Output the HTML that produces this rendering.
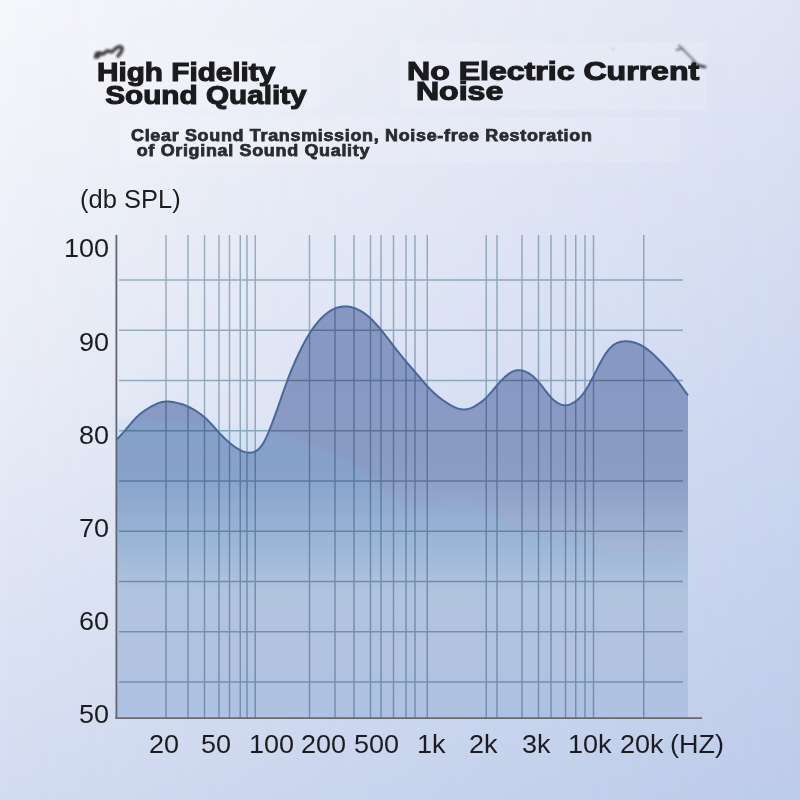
<!DOCTYPE html>
<html><head><meta charset="utf-8">
<style>
html,body{margin:0;padding:0;}
body{width:800px;height:800px;position:relative;overflow:hidden;font-family:"Liberation Sans",Arial,sans-serif;}
.bgA{position:absolute;left:0;top:0;width:800px;height:800px;background:linear-gradient(to bottom,#f6f7fb 0%,#e8ecf7 50%,#d3dcf1 100%);}
.bgB{position:absolute;left:0;top:0;width:800px;height:800px;background:linear-gradient(to bottom,#dfe4f3 0%,#cdd7f0 50%,#bccbe9 100%);
 -webkit-mask-image:linear-gradient(to right,transparent,#000);mask-image:linear-gradient(to right,transparent,#000);}
.box{position:absolute;background:rgba(255,255,255,0.12);}
.h{position:absolute;white-space:nowrap;font-weight:bold;color:#1b1b1d;transform-origin:0 0;text-shadow:0 0 1.5px rgba(255,255,255,0.9);}
.yl{position:absolute;left:0;width:109px;text-align:right;font-size:25px;line-height:1;color:#1c1c1f;margin-top:-3px;transform:scaleX(1.08);transform-origin:109px 0;}
.xl{position:absolute;top:732px;font-size:25px;line-height:1;color:#1c1c1f;transform:scaleX(1.08);transform-origin:0 0;}
svg{position:absolute;left:0;top:0;}
</style></head><body>
<div class="bgA"></div><div class="bgB"></div>
<div class="box" style="left:91px;top:42px;width:229px;height:68px"></div>
<div class="box" style="left:400px;top:42px;width:307px;height:68px"></div>
<div class="box" style="left:120px;top:118px;width:560px;height:44px"></div>
<svg width="800" height="200" viewBox="0 0 800 200" style="position:absolute;left:0;top:0">
<defs><filter id="sm" x="-50%" y="-50%" width="200%" height="200%"><feGaussianBlur stdDeviation="1.1"/></filter>
<filter id="sm2" x="-50%" y="-50%" width="200%" height="200%"><feGaussianBlur stdDeviation="0.8"/></filter></defs>
<g filter="url(#sm)" fill="none" stroke="#4a4a4e" stroke-linecap="round">
<path d="M95.5,57 C97,53 100,52 102,54 C104,55 105,51 108,51 C110,51 111,53 113,51 C116,48 119,46 121,47 C123,48 122,52 118,56" stroke-width="3.8"/>
<ellipse cx="97.5" cy="55" rx="3" ry="3.5" fill="#3e3e42" stroke="none"/>
</g>
<g filter="url(#sm2)" fill="none" stroke-linecap="round">
<path d="M676.5,50 L683,48.5 M679,45.5 L695,61.5" stroke="#7a7d86" stroke-width="1.9"/>
<path d="M693,63 L699,65.5 L705,67" stroke="#505259" stroke-width="3"/>
</g>
<circle cx="613" cy="49" r="1.5" fill="#c8cbd6" filter="url(#sm2)"/>
</svg>
<div class="h" id="h1" style="left:97px;top:60.7px;font-size:25.5px;line-height:23.8px;transform:scaleX(1.165);-webkit-text-stroke:1.1px #1b1b1d;">High Fidelity<br>&nbsp;Sound Quality</div>
<div class="h" id="h2" style="left:407px;top:60.8px;font-size:26.4px;line-height:20.1px;transform:scaleX(1.215);-webkit-text-stroke:1.2px #1b1b1d;">No Electric Current<br>&nbsp;Noise</div>
<div class="h" id="h3" style="left:131px;top:129.3px;font-size:16px;line-height:14.8px;color:#2b2b30;transform:scaleX(1.12);-webkit-text-stroke:0.75px #2b2b30;letter-spacing:0.62px;">Clear Sound Transmission, Noise-free Restoration<br>&nbsp;of Original Sound Quality</div>
<div class="h" style="left:80px;top:186.7px;font-size:25px;font-weight:normal;color:#1c1c1f;line-height:1;transform:scaleX(1.02);">(db SPL)</div>
<div class="yl" style="top:239.4px">100</div><div class="yl" style="top:332.5px">90</div><div class="yl" style="top:425.6px">80</div><div class="yl" style="top:518.6px">70</div><div class="yl" style="top:611.7px">60</div><div class="yl" style="top:704.8px">50</div>
<div class="xl" style="left:148.5px">20</div><div class="xl" style="left:200.9px">50</div><div class="xl" style="left:249.1px">100</div><div class="xl" style="left:300.9px">200</div><div class="xl" style="left:353.5px">500</div><div class="xl" style="left:416.5px">1k</div><div class="xl" style="left:469.1px">2k</div><div class="xl" style="left:522.1px">3k</div><div class="xl" style="left:567.5px">10k</div><div class="xl" style="left:620.1px">20k</div><div class="xl" style="left:670.1px">(HZ)</div>
<svg width="800" height="800" viewBox="0 0 800 800">
<defs>
<linearGradient id="gf" x1="0" y1="300" x2="0" y2="718" gradientUnits="userSpaceOnUse">
<stop offset="0" stop-color="rgb(134,152,194)"/>
<stop offset="0.407" stop-color="rgb(138,155,196)"/>
<stop offset="0.55" stop-color="rgb(158,176,210)"/>
<stop offset="0.694" stop-color="rgb(182,196,221)"/>
<stop offset="1" stop-color="rgb(175,194,227)"/>
</linearGradient>
<linearGradient id="gt" x1="0" y1="420" x2="0" y2="700" gradientUnits="userSpaceOnUse">
<stop offset="0" stop-color="rgb(118,188,226)" stop-opacity="0.2"/>
<stop offset="0.45" stop-color="rgb(118,188,226)" stop-opacity="0.16"/>
<stop offset="0.75" stop-color="rgb(118,188,226)" stop-opacity="0.03"/>
<stop offset="1" stop-color="rgb(118,188,226)" stop-opacity="0.03"/>
</linearGradient>
<filter id="bl" x="-5%" y="-5%" width="110%" height="110%"><feGaussianBlur stdDeviation="3"/></filter>
<filter id="bl2" x="-5%" y="-5%" width="110%" height="110%"><feGaussianBlur stdDeviation="2.5"/></filter>
<clipPath id="cp"><rect x="117" y="230" width="571" height="488"/></clipPath>
<clipPath id="cf"><path d="M117.0,439.30 L118.0,438.24 L119.0,437.17 L120.0,436.10 L121.0,435.02 L122.0,433.92 L123.0,432.82 L124.0,431.69 L125.0,430.55 L126.0,429.39 L127.0,428.20 L128.0,427.00 L129.0,425.80 L130.0,424.60 L131.0,423.41 L132.0,422.23 L133.0,421.08 L134.0,419.96 L135.0,418.87 L136.0,417.82 L137.0,416.83 L138.0,415.89 L139.0,414.99 L140.0,414.14 L141.0,413.33 L142.0,412.56 L143.0,411.82 L144.0,411.11 L145.0,410.42 L146.0,409.76 L147.0,409.11 L148.0,408.48 L149.0,407.86 L150.0,407.25 L151.0,406.66 L152.0,406.09 L153.0,405.55 L154.0,405.03 L155.0,404.53 L156.0,404.07 L157.0,403.64 L158.0,403.25 L159.0,402.90 L160.0,402.59 L161.0,402.32 L162.0,402.09 L163.0,401.90 L164.0,401.75 L165.0,401.64 L166.0,401.57 L167.0,401.54 L168.0,401.55 L169.0,401.59 L170.0,401.66 L171.0,401.76 L172.0,401.89 L173.0,402.04 L174.0,402.22 L175.0,402.42 L176.0,402.63 L177.0,402.87 L178.0,403.11 L179.0,403.37 L180.0,403.64 L181.0,403.93 L182.0,404.24 L183.0,404.57 L184.0,404.92 L185.0,405.29 L186.0,405.68 L187.0,406.10 L188.0,406.54 L189.0,407.01 L190.0,407.51 L191.0,408.03 L192.0,408.58 L193.0,409.15 L194.0,409.74 L195.0,410.35 L196.0,410.98 L197.0,411.62 L198.0,412.29 L199.0,412.97 L200.0,413.69 L201.0,414.42 L202.0,415.19 L203.0,415.99 L204.0,416.83 L205.0,417.71 L206.0,418.63 L207.0,419.58 L208.0,420.58 L209.0,421.60 L210.0,422.64 L211.0,423.71 L212.0,424.80 L213.0,425.90 L214.0,427.01 L215.0,428.13 L216.0,429.25 L217.0,430.37 L218.0,431.48 L219.0,432.57 L220.0,433.65 L221.0,434.70 L222.0,435.74 L223.0,436.74 L224.0,437.73 L225.0,438.69 L226.0,439.63 L227.0,440.54 L228.0,441.44 L229.0,442.31 L230.0,443.15 L231.0,443.97 L232.0,444.77 L233.0,445.54 L234.0,446.28 L235.0,446.99 L236.0,447.67 L237.0,448.32 L238.0,448.93 L239.0,449.50 L240.0,450.04 L241.0,450.53 L242.0,450.98 L243.0,451.39 L244.0,451.74 L245.0,452.05 L246.0,452.30 L247.0,452.49 L248.0,452.62 L249.0,452.69 L250.0,452.69 L251.0,452.61 L252.0,452.46 L253.0,452.22 L254.0,451.89 L255.0,451.47 L256.0,450.94 L257.0,450.31 L258.0,449.55 L259.0,448.66 L260.0,447.63 L261.0,446.45 L262.0,445.11 L263.0,443.59 L264.0,441.90 L265.0,440.05 L266.0,438.04 L267.0,435.89 L268.0,433.61 L269.0,431.21 L270.0,428.72 L271.0,426.14 L272.0,423.49 L273.0,420.81 L274.0,418.09 L275.0,415.35 L276.0,412.58 L277.0,409.79 L278.0,406.97 L279.0,404.13 L280.0,401.27 L281.0,398.40 L282.0,395.53 L283.0,392.67 L284.0,389.82 L285.0,387.00 L286.0,384.23 L287.0,381.50 L288.0,378.83 L289.0,376.23 L290.0,373.68 L291.0,371.18 L292.0,368.75 L293.0,366.36 L294.0,364.03 L295.0,361.74 L296.0,359.50 L297.0,357.30 L298.0,355.15 L299.0,353.04 L300.0,350.97 L301.0,348.95 L302.0,346.97 L303.0,345.03 L304.0,343.14 L305.0,341.30 L306.0,339.50 L307.0,337.75 L308.0,336.05 L309.0,334.40 L310.0,332.80 L311.0,331.25 L312.0,329.75 L313.0,328.30 L314.0,326.90 L315.0,325.56 L316.0,324.26 L317.0,323.02 L318.0,321.83 L319.0,320.69 L320.0,319.60 L321.0,318.55 L322.0,317.55 L323.0,316.59 L324.0,315.67 L325.0,314.80 L326.0,313.97 L327.0,313.18 L328.0,312.43 L329.0,311.73 L330.0,311.07 L331.0,310.45 L332.0,309.88 L333.0,309.36 L334.0,308.88 L335.0,308.44 L336.0,308.05 L337.0,307.71 L338.0,307.41 L339.0,307.15 L340.0,306.94 L341.0,306.77 L342.0,306.63 L343.0,306.54 L344.0,306.48 L345.0,306.46 L346.0,306.47 L347.0,306.53 L348.0,306.61 L349.0,306.74 L350.0,306.90 L351.0,307.10 L352.0,307.33 L353.0,307.61 L354.0,307.92 L355.0,308.27 L356.0,308.66 L357.0,309.09 L358.0,309.55 L359.0,310.05 L360.0,310.59 L361.0,311.17 L362.0,311.78 L363.0,312.43 L364.0,313.11 L365.0,313.83 L366.0,314.58 L367.0,315.37 L368.0,316.19 L369.0,317.04 L370.0,317.94 L371.0,318.86 L372.0,319.82 L373.0,320.81 L374.0,321.83 L375.0,322.89 L376.0,323.97 L377.0,325.08 L378.0,326.22 L379.0,327.38 L380.0,328.57 L381.0,329.77 L382.0,331.00 L383.0,332.25 L384.0,333.51 L385.0,334.78 L386.0,336.07 L387.0,337.36 L388.0,338.66 L389.0,339.97 L390.0,341.28 L391.0,342.59 L392.0,343.89 L393.0,345.19 L394.0,346.49 L395.0,347.78 L396.0,349.06 L397.0,350.34 L398.0,351.61 L399.0,352.87 L400.0,354.12 L401.0,355.37 L402.0,356.60 L403.0,357.83 L404.0,359.04 L405.0,360.25 L406.0,361.44 L407.0,362.63 L408.0,363.80 L409.0,364.96 L410.0,366.12 L411.0,367.27 L412.0,368.42 L413.0,369.57 L414.0,370.72 L415.0,371.87 L416.0,373.03 L417.0,374.19 L418.0,375.35 L419.0,376.53 L420.0,377.71 L421.0,378.90 L422.0,380.09 L423.0,381.28 L424.0,382.46 L425.0,383.62 L426.0,384.76 L427.0,385.89 L428.0,386.98 L429.0,388.04 L430.0,389.08 L431.0,390.09 L432.0,391.07 L433.0,392.02 L434.0,392.95 L435.0,393.85 L436.0,394.73 L437.0,395.58 L438.0,396.42 L439.0,397.23 L440.0,398.01 L441.0,398.78 L442.0,399.53 L443.0,400.25 L444.0,400.96 L445.0,401.64 L446.0,402.31 L447.0,402.95 L448.0,403.58 L449.0,404.19 L450.0,404.77 L451.0,405.34 L452.0,405.87 L453.0,406.38 L454.0,406.86 L455.0,407.31 L456.0,407.72 L457.0,408.09 L458.0,408.43 L459.0,408.71 L460.0,408.96 L461.0,409.15 L462.0,409.29 L463.0,409.38 L464.0,409.42 L465.0,409.40 L466.0,409.32 L467.0,409.18 L468.0,408.99 L469.0,408.73 L470.0,408.42 L471.0,408.05 L472.0,407.62 L473.0,407.14 L474.0,406.61 L475.0,406.05 L476.0,405.45 L477.0,404.83 L478.0,404.17 L479.0,403.50 L480.0,402.81 L481.0,402.09 L482.0,401.34 L483.0,400.54 L484.0,399.71 L485.0,398.83 L486.0,397.89 L487.0,396.90 L488.0,395.86 L489.0,394.77 L490.0,393.64 L491.0,392.48 L492.0,391.31 L493.0,390.12 L494.0,388.93 L495.0,387.74 L496.0,386.56 L497.0,385.39 L498.0,384.24 L499.0,383.11 L500.0,382.01 L501.0,380.93 L502.0,379.87 L503.0,378.85 L504.0,377.87 L505.0,376.93 L506.0,376.03 L507.0,375.19 L508.0,374.40 L509.0,373.67 L510.0,373.00 L511.0,372.40 L512.0,371.87 L513.0,371.42 L514.0,371.03 L515.0,370.72 L516.0,370.48 L517.0,370.32 L518.0,370.22 L519.0,370.20 L520.0,370.25 L521.0,370.37 L522.0,370.56 L523.0,370.81 L524.0,371.12 L525.0,371.48 L526.0,371.90 L527.0,372.37 L528.0,372.89 L529.0,373.46 L530.0,374.08 L531.0,374.76 L532.0,375.50 L533.0,376.30 L534.0,377.17 L535.0,378.10 L536.0,379.10 L537.0,380.16 L538.0,381.28 L539.0,382.45 L540.0,383.66 L541.0,384.90 L542.0,386.17 L543.0,387.46 L544.0,388.76 L545.0,390.07 L546.0,391.36 L547.0,392.64 L548.0,393.90 L549.0,395.11 L550.0,396.27 L551.0,397.38 L552.0,398.42 L553.0,399.38 L554.0,400.28 L555.0,401.10 L556.0,401.85 L557.0,402.53 L558.0,403.13 L559.0,403.66 L560.0,404.12 L561.0,404.50 L562.0,404.80 L563.0,405.03 L564.0,405.18 L565.0,405.25 L566.0,405.23 L567.0,405.13 L568.0,404.94 L569.0,404.68 L570.0,404.34 L571.0,403.94 L572.0,403.46 L573.0,402.93 L574.0,402.33 L575.0,401.68 L576.0,400.96 L577.0,400.19 L578.0,399.34 L579.0,398.42 L580.0,397.43 L581.0,396.35 L582.0,395.19 L583.0,393.95 L584.0,392.60 L585.0,391.17 L586.0,389.65 L587.0,388.05 L588.0,386.37 L589.0,384.63 L590.0,382.82 L591.0,380.96 L592.0,379.05 L593.0,377.10 L594.0,375.12 L595.0,373.12 L596.0,371.12 L597.0,369.12 L598.0,367.15 L599.0,365.20 L600.0,363.30 L601.0,361.45 L602.0,359.66 L603.0,357.93 L604.0,356.27 L605.0,354.69 L606.0,353.19 L607.0,351.78 L608.0,350.46 L609.0,349.24 L610.0,348.11 L611.0,347.10 L612.0,346.18 L613.0,345.37 L614.0,344.65 L615.0,344.01 L616.0,343.46 L617.0,342.98 L618.0,342.57 L619.0,342.24 L620.0,341.96 L621.0,341.74 L622.0,341.58 L623.0,341.46 L624.0,341.38 L625.0,341.33 L626.0,341.32 L627.0,341.35 L628.0,341.40 L629.0,341.49 L630.0,341.60 L631.0,341.76 L632.0,341.94 L633.0,342.17 L634.0,342.42 L635.0,342.71 L636.0,343.04 L637.0,343.40 L638.0,343.80 L639.0,344.24 L640.0,344.71 L641.0,345.23 L642.0,345.78 L643.0,346.37 L644.0,346.99 L645.0,347.66 L646.0,348.36 L647.0,349.10 L648.0,349.86 L649.0,350.66 L650.0,351.49 L651.0,352.34 L652.0,353.22 L653.0,354.12 L654.0,355.04 L655.0,355.99 L656.0,356.95 L657.0,357.92 L658.0,358.92 L659.0,359.92 L660.0,360.94 L661.0,361.96 L662.0,363.00 L663.0,364.05 L664.0,365.11 L665.0,366.18 L666.0,367.27 L667.0,368.37 L668.0,369.49 L669.0,370.62 L670.0,371.77 L671.0,372.94 L672.0,374.12 L673.0,375.33 L674.0,376.55 L675.0,377.79 L676.0,379.05 L677.0,380.34 L678.0,381.64 L679.0,382.97 L680.0,384.31 L681.0,385.67 L682.0,387.04 L683.0,388.42 L684.0,389.81 L685.0,391.21 L686.0,392.62 L687.0,394.03 L688.0,395.44 L688,718 L117,718 Z"/></clipPath>
</defs>
<g clip-path="url(#cp)"><path d="M117.0,420.00 L118.0,420.03 L119.0,420.06 L120.0,420.08 L121.0,420.11 L122.0,420.14 L123.0,420.17 L124.0,420.20 L125.0,420.22 L126.0,420.25 L127.0,420.28 L128.0,420.30 L129.0,420.33 L130.0,420.36 L131.0,420.38 L132.0,420.41 L133.0,420.44 L134.0,420.47 L135.0,420.49 L136.0,420.52 L137.0,420.55 L138.0,420.58 L139.0,420.61 L140.0,420.64 L141.0,420.68 L142.0,420.71 L143.0,420.74 L144.0,420.78 L145.0,420.81 L146.0,420.85 L147.0,420.89 L148.0,420.93 L149.0,420.97 L150.0,421.02 L151.0,421.06 L152.0,421.11 L153.0,421.16 L154.0,421.21 L155.0,421.26 L156.0,421.32 L157.0,421.38 L158.0,421.44 L159.0,421.50 L160.0,421.56 L161.0,421.63 L162.0,421.70 L163.0,421.77 L164.0,421.84 L165.0,421.91 L166.0,421.98 L167.0,422.06 L168.0,422.14 L169.0,422.22 L170.0,422.30 L171.0,422.38 L172.0,422.46 L173.0,422.54 L174.0,422.62 L175.0,422.71 L176.0,422.79 L177.0,422.88 L178.0,422.96 L179.0,423.05 L180.0,423.13 L181.0,423.22 L182.0,423.31 L183.0,423.39 L184.0,423.48 L185.0,423.57 L186.0,423.65 L187.0,423.74 L188.0,423.83 L189.0,423.92 L190.0,424.00 L191.0,424.09 L192.0,424.18 L193.0,424.27 L194.0,424.36 L195.0,424.45 L196.0,424.55 L197.0,424.64 L198.0,424.73 L199.0,424.83 L200.0,424.93 L201.0,425.02 L202.0,425.12 L203.0,425.22 L204.0,425.32 L205.0,425.42 L206.0,425.52 L207.0,425.63 L208.0,425.73 L209.0,425.83 L210.0,425.94 L211.0,426.04 L212.0,426.14 L213.0,426.25 L214.0,426.35 L215.0,426.46 L216.0,426.56 L217.0,426.67 L218.0,426.78 L219.0,426.88 L220.0,426.99 L221.0,427.09 L222.0,427.20 L223.0,427.30 L224.0,427.41 L225.0,427.51 L226.0,427.61 L227.0,427.72 L228.0,427.82 L229.0,427.92 L230.0,428.02 L231.0,428.12 L232.0,428.22 L233.0,428.32 L234.0,428.42 L235.0,428.52 L236.0,428.61 L237.0,428.71 L238.0,428.80 L239.0,428.89 L240.0,428.98 L241.0,429.07 L242.0,429.16 L243.0,429.24 L244.0,429.32 L245.0,429.40 L246.0,429.48 L247.0,429.55 L248.0,429.63 L249.0,429.70 L250.0,429.77 L251.0,429.84 L252.0,429.91 L253.0,429.98 L254.0,430.05 L255.0,430.12 L256.0,430.20 L257.0,430.27 L258.0,430.34 L259.0,430.41 L260.0,430.49 L261.0,430.57 L262.0,430.65 L263.0,430.73 L264.0,430.82 L265.0,430.91 L266.0,431.00 L267.0,431.10 L268.0,431.20 L269.0,431.31 L270.0,431.42 L271.0,431.54 L272.0,431.67 L273.0,431.81 L274.0,431.96 L275.0,432.12 L276.0,432.30 L277.0,432.49 L278.0,432.70 L279.0,432.92 L280.0,433.17 L281.0,433.43 L282.0,433.71 L283.0,434.01 L284.0,434.33 L285.0,434.66 L286.0,435.01 L287.0,435.37 L288.0,435.75 L289.0,436.13 L290.0,436.53 L291.0,436.94 L292.0,437.35 L293.0,437.77 L294.0,438.20 L295.0,438.63 L296.0,439.07 L297.0,439.51 L298.0,439.95 L299.0,440.39 L300.0,440.83 L301.0,441.26 L302.0,441.69 L303.0,442.12 L304.0,442.55 L305.0,442.96 L306.0,443.37 L307.0,443.77 L308.0,444.17 L309.0,444.55 L310.0,444.93 L311.0,445.30 L312.0,445.67 L313.0,446.03 L314.0,446.38 L315.0,446.73 L316.0,447.07 L317.0,447.42 L318.0,447.76 L319.0,448.10 L320.0,448.44 L321.0,448.78 L322.0,449.12 L323.0,449.47 L324.0,449.82 L325.0,450.17 L326.0,450.53 L327.0,450.89 L328.0,451.26 L329.0,451.64 L330.0,452.02 L331.0,452.42 L332.0,452.82 L333.0,453.24 L334.0,453.67 L335.0,454.10 L336.0,454.55 L337.0,455.02 L338.0,455.49 L339.0,455.98 L340.0,456.48 L341.0,456.99 L342.0,457.52 L343.0,458.05 L344.0,458.60 L345.0,459.15 L346.0,459.71 L347.0,460.28 L348.0,460.85 L349.0,461.44 L350.0,462.02 L351.0,462.61 L352.0,463.21 L353.0,463.81 L354.0,464.41 L355.0,465.02 L356.0,465.63 L357.0,466.24 L358.0,466.86 L359.0,467.48 L360.0,468.12 L361.0,468.76 L362.0,469.41 L363.0,470.07 L364.0,470.75 L365.0,471.45 L366.0,472.17 L367.0,472.91 L368.0,473.67 L369.0,474.46 L370.0,475.28 L371.0,476.13 L372.0,477.01 L373.0,477.93 L374.0,478.87 L375.0,479.83 L376.0,480.82 L377.0,481.82 L378.0,482.84 L379.0,483.86 L380.0,484.89 L381.0,485.91 L382.0,486.94 L383.0,487.95 L384.0,488.97 L385.0,489.97 L386.0,490.97 L387.0,491.96 L388.0,492.95 L389.0,493.93 L390.0,494.90 L391.0,495.84 L392.0,496.76 L393.0,497.66 L394.0,498.51 L395.0,499.32 L396.0,500.08 L397.0,500.79 L398.0,501.44 L399.0,502.05 L400.0,502.60 L401.0,503.10 L402.0,503.57 L403.0,504.00 L404.0,504.40 L405.0,504.77 L406.0,505.13 L407.0,505.46 L408.0,505.77 L409.0,506.06 L410.0,506.34 L411.0,506.59 L412.0,506.82 L413.0,507.03 L414.0,507.22 L415.0,507.38 L416.0,507.51 L417.0,507.61 L418.0,507.69 L419.0,507.74 L420.0,507.76 L421.0,507.75 L422.0,507.72 L423.0,507.65 L424.0,507.57 L425.0,507.45 L426.0,507.32 L427.0,507.17 L428.0,507.00 L429.0,506.81 L430.0,506.62 L431.0,506.41 L432.0,506.19 L433.0,505.96 L434.0,505.73 L435.0,505.50 L436.0,505.27 L437.0,505.04 L438.0,504.81 L439.0,504.59 L440.0,504.38 L441.0,504.19 L442.0,504.00 L443.0,503.83 L444.0,503.67 L445.0,503.54 L446.0,503.42 L447.0,503.32 L448.0,503.24 L449.0,503.18 L450.0,503.14 L451.0,503.12 L452.0,503.11 L453.0,503.11 L454.0,503.13 L455.0,503.15 L456.0,503.19 L457.0,503.23 L458.0,503.28 L459.0,503.34 L460.0,503.40 L461.0,503.47 L462.0,503.54 L463.0,503.62 L464.0,503.70 L465.0,503.79 L466.0,503.88 L467.0,503.98 L468.0,504.08 L469.0,504.19 L470.0,504.31 L471.0,504.43 L472.0,504.56 L473.0,504.70 L474.0,504.86 L475.0,505.03 L476.0,505.23 L477.0,505.46 L478.0,505.72 L479.0,506.01 L480.0,506.34 L481.0,506.71 L482.0,507.12 L483.0,507.57 L484.0,508.06 L485.0,508.59 L486.0,509.14 L487.0,509.73 L488.0,510.35 L489.0,511.00 L490.0,511.66 L491.0,512.35 L492.0,513.05 L493.0,513.77 L494.0,514.50 L495.0,515.23 L496.0,515.97 L497.0,516.71 L498.0,517.45 L499.0,518.18 L500.0,518.91 L501.0,519.62 L502.0,520.33 L503.0,521.01 L504.0,521.68 L505.0,522.32 L506.0,522.94 L507.0,523.53 L508.0,524.09 L509.0,524.62 L510.0,525.11 L511.0,525.58 L512.0,526.01 L513.0,526.41 L514.0,526.78 L515.0,527.13 L516.0,527.45 L517.0,527.76 L518.0,528.04 L519.0,528.32 L520.0,528.58 L521.0,528.83 L522.0,529.08 L523.0,529.31 L524.0,529.54 L525.0,529.76 L526.0,529.98 L527.0,530.19 L528.0,530.40 L529.0,530.60 L530.0,530.79 L531.0,530.98 L532.0,531.17 L533.0,531.35 L534.0,531.52 L535.0,531.70 L536.0,531.87 L537.0,532.04 L538.0,532.20 L539.0,532.36 L540.0,532.52 L541.0,532.68 L542.0,532.83 L543.0,532.98 L544.0,533.14 L545.0,533.29 L546.0,533.44 L547.0,533.59 L548.0,533.74 L549.0,533.88 L550.0,534.03 L551.0,534.18 L552.0,534.33 L553.0,534.48 L554.0,534.64 L555.0,534.79 L556.0,534.95 L557.0,535.10 L558.0,535.26 L559.0,535.42 L560.0,535.59 L561.0,535.76 L562.0,535.93 L563.0,536.10 L564.0,536.28 L565.0,536.46 L566.0,536.65 L567.0,536.84 L568.0,537.04 L569.0,537.24 L570.0,537.45 L571.0,537.66 L572.0,537.88 L573.0,538.11 L574.0,538.34 L575.0,538.59 L576.0,538.85 L577.0,539.11 L578.0,539.40 L579.0,539.70 L580.0,540.01 L581.0,540.34 L582.0,540.68 L583.0,541.04 L584.0,541.42 L585.0,541.81 L586.0,542.22 L587.0,542.64 L588.0,543.06 L589.0,543.50 L590.0,543.95 L591.0,544.41 L592.0,544.87 L593.0,545.33 L594.0,545.80 L595.0,546.27 L596.0,546.74 L597.0,547.21 L598.0,547.68 L599.0,548.14 L600.0,548.60 L601.0,549.06 L602.0,549.50 L603.0,549.94 L604.0,550.36 L605.0,550.78 L606.0,551.18 L607.0,551.57 L608.0,551.94 L609.0,552.29 L610.0,552.63 L611.0,552.94 L612.0,553.24 L613.0,553.51 L614.0,553.76 L615.0,553.98 L616.0,554.18 L617.0,554.35 L618.0,554.50 L619.0,554.62 L620.0,554.72 L621.0,554.80 L622.0,554.85 L623.0,554.89 L624.0,554.91 L625.0,554.93 L626.0,554.93 L627.0,554.92 L628.0,554.91 L629.0,554.89 L630.0,554.87 L631.0,554.84 L632.0,554.81 L633.0,554.78 L634.0,554.75 L635.0,554.72 L636.0,554.68 L637.0,554.65 L638.0,554.61 L639.0,554.58 L640.0,554.54 L641.0,554.50 L642.0,554.46 L643.0,554.42 L644.0,554.39 L645.0,554.35 L646.0,554.32 L647.0,554.28 L648.0,554.25 L649.0,554.22 L650.0,554.19 L651.0,554.16 L652.0,554.13 L653.0,554.11 L654.0,554.09 L655.0,554.07 L656.0,554.06 L657.0,554.05 L658.0,554.05 L659.0,554.06 L660.0,554.07 L661.0,554.09 L662.0,554.12 L663.0,554.15 L664.0,554.20 L665.0,554.26 L666.0,554.33 L667.0,554.40 L668.0,554.49 L669.0,554.58 L670.0,554.68 L671.0,554.79 L672.0,554.91 L673.0,555.03 L674.0,555.16 L675.0,555.28 L676.0,555.42 L677.0,555.55 L678.0,555.69 L679.0,555.82 L680.0,555.96 L681.0,556.10 L682.0,556.23 L683.0,556.36 L684.0,556.49 L685.0,556.62 L686.0,556.74 L687.0,556.86 L688.0,556.98 L688,718 L117,718 Z" fill="rgb(210,225,244)" filter="url(#bl)"/></g>
<path d="M117.0,439.30 L118.0,438.24 L119.0,437.17 L120.0,436.10 L121.0,435.02 L122.0,433.92 L123.0,432.82 L124.0,431.69 L125.0,430.55 L126.0,429.39 L127.0,428.20 L128.0,427.00 L129.0,425.80 L130.0,424.60 L131.0,423.41 L132.0,422.23 L133.0,421.08 L134.0,419.96 L135.0,418.87 L136.0,417.82 L137.0,416.83 L138.0,415.89 L139.0,414.99 L140.0,414.14 L141.0,413.33 L142.0,412.56 L143.0,411.82 L144.0,411.11 L145.0,410.42 L146.0,409.76 L147.0,409.11 L148.0,408.48 L149.0,407.86 L150.0,407.25 L151.0,406.66 L152.0,406.09 L153.0,405.55 L154.0,405.03 L155.0,404.53 L156.0,404.07 L157.0,403.64 L158.0,403.25 L159.0,402.90 L160.0,402.59 L161.0,402.32 L162.0,402.09 L163.0,401.90 L164.0,401.75 L165.0,401.64 L166.0,401.57 L167.0,401.54 L168.0,401.55 L169.0,401.59 L170.0,401.66 L171.0,401.76 L172.0,401.89 L173.0,402.04 L174.0,402.22 L175.0,402.42 L176.0,402.63 L177.0,402.87 L178.0,403.11 L179.0,403.37 L180.0,403.64 L181.0,403.93 L182.0,404.24 L183.0,404.57 L184.0,404.92 L185.0,405.29 L186.0,405.68 L187.0,406.10 L188.0,406.54 L189.0,407.01 L190.0,407.51 L191.0,408.03 L192.0,408.58 L193.0,409.15 L194.0,409.74 L195.0,410.35 L196.0,410.98 L197.0,411.62 L198.0,412.29 L199.0,412.97 L200.0,413.69 L201.0,414.42 L202.0,415.19 L203.0,415.99 L204.0,416.83 L205.0,417.71 L206.0,418.63 L207.0,419.58 L208.0,420.58 L209.0,421.60 L210.0,422.64 L211.0,423.71 L212.0,424.80 L213.0,425.90 L214.0,427.01 L215.0,428.13 L216.0,429.25 L217.0,430.37 L218.0,431.48 L219.0,432.57 L220.0,433.65 L221.0,434.70 L222.0,435.74 L223.0,436.74 L224.0,437.73 L225.0,438.69 L226.0,439.63 L227.0,440.54 L228.0,441.44 L229.0,442.31 L230.0,443.15 L231.0,443.97 L232.0,444.77 L233.0,445.54 L234.0,446.28 L235.0,446.99 L236.0,447.67 L237.0,448.32 L238.0,448.93 L239.0,449.50 L240.0,450.04 L241.0,450.53 L242.0,450.98 L243.0,451.39 L244.0,451.74 L245.0,452.05 L246.0,452.30 L247.0,452.49 L248.0,452.62 L249.0,452.69 L250.0,452.69 L251.0,452.61 L252.0,452.46 L253.0,452.22 L254.0,451.89 L255.0,451.47 L256.0,450.94 L257.0,450.31 L258.0,449.55 L259.0,448.66 L260.0,447.63 L261.0,446.45 L262.0,445.11 L263.0,443.59 L264.0,441.90 L265.0,440.05 L266.0,438.04 L267.0,435.89 L268.0,433.61 L269.0,431.21 L270.0,428.72 L271.0,426.14 L272.0,423.49 L273.0,420.81 L274.0,418.09 L275.0,415.35 L276.0,412.58 L277.0,409.79 L278.0,406.97 L279.0,404.13 L280.0,401.27 L281.0,398.40 L282.0,395.53 L283.0,392.67 L284.0,389.82 L285.0,387.00 L286.0,384.23 L287.0,381.50 L288.0,378.83 L289.0,376.23 L290.0,373.68 L291.0,371.18 L292.0,368.75 L293.0,366.36 L294.0,364.03 L295.0,361.74 L296.0,359.50 L297.0,357.30 L298.0,355.15 L299.0,353.04 L300.0,350.97 L301.0,348.95 L302.0,346.97 L303.0,345.03 L304.0,343.14 L305.0,341.30 L306.0,339.50 L307.0,337.75 L308.0,336.05 L309.0,334.40 L310.0,332.80 L311.0,331.25 L312.0,329.75 L313.0,328.30 L314.0,326.90 L315.0,325.56 L316.0,324.26 L317.0,323.02 L318.0,321.83 L319.0,320.69 L320.0,319.60 L321.0,318.55 L322.0,317.55 L323.0,316.59 L324.0,315.67 L325.0,314.80 L326.0,313.97 L327.0,313.18 L328.0,312.43 L329.0,311.73 L330.0,311.07 L331.0,310.45 L332.0,309.88 L333.0,309.36 L334.0,308.88 L335.0,308.44 L336.0,308.05 L337.0,307.71 L338.0,307.41 L339.0,307.15 L340.0,306.94 L341.0,306.77 L342.0,306.63 L343.0,306.54 L344.0,306.48 L345.0,306.46 L346.0,306.47 L347.0,306.53 L348.0,306.61 L349.0,306.74 L350.0,306.90 L351.0,307.10 L352.0,307.33 L353.0,307.61 L354.0,307.92 L355.0,308.27 L356.0,308.66 L357.0,309.09 L358.0,309.55 L359.0,310.05 L360.0,310.59 L361.0,311.17 L362.0,311.78 L363.0,312.43 L364.0,313.11 L365.0,313.83 L366.0,314.58 L367.0,315.37 L368.0,316.19 L369.0,317.04 L370.0,317.94 L371.0,318.86 L372.0,319.82 L373.0,320.81 L374.0,321.83 L375.0,322.89 L376.0,323.97 L377.0,325.08 L378.0,326.22 L379.0,327.38 L380.0,328.57 L381.0,329.77 L382.0,331.00 L383.0,332.25 L384.0,333.51 L385.0,334.78 L386.0,336.07 L387.0,337.36 L388.0,338.66 L389.0,339.97 L390.0,341.28 L391.0,342.59 L392.0,343.89 L393.0,345.19 L394.0,346.49 L395.0,347.78 L396.0,349.06 L397.0,350.34 L398.0,351.61 L399.0,352.87 L400.0,354.12 L401.0,355.37 L402.0,356.60 L403.0,357.83 L404.0,359.04 L405.0,360.25 L406.0,361.44 L407.0,362.63 L408.0,363.80 L409.0,364.96 L410.0,366.12 L411.0,367.27 L412.0,368.42 L413.0,369.57 L414.0,370.72 L415.0,371.87 L416.0,373.03 L417.0,374.19 L418.0,375.35 L419.0,376.53 L420.0,377.71 L421.0,378.90 L422.0,380.09 L423.0,381.28 L424.0,382.46 L425.0,383.62 L426.0,384.76 L427.0,385.89 L428.0,386.98 L429.0,388.04 L430.0,389.08 L431.0,390.09 L432.0,391.07 L433.0,392.02 L434.0,392.95 L435.0,393.85 L436.0,394.73 L437.0,395.58 L438.0,396.42 L439.0,397.23 L440.0,398.01 L441.0,398.78 L442.0,399.53 L443.0,400.25 L444.0,400.96 L445.0,401.64 L446.0,402.31 L447.0,402.95 L448.0,403.58 L449.0,404.19 L450.0,404.77 L451.0,405.34 L452.0,405.87 L453.0,406.38 L454.0,406.86 L455.0,407.31 L456.0,407.72 L457.0,408.09 L458.0,408.43 L459.0,408.71 L460.0,408.96 L461.0,409.15 L462.0,409.29 L463.0,409.38 L464.0,409.42 L465.0,409.40 L466.0,409.32 L467.0,409.18 L468.0,408.99 L469.0,408.73 L470.0,408.42 L471.0,408.05 L472.0,407.62 L473.0,407.14 L474.0,406.61 L475.0,406.05 L476.0,405.45 L477.0,404.83 L478.0,404.17 L479.0,403.50 L480.0,402.81 L481.0,402.09 L482.0,401.34 L483.0,400.54 L484.0,399.71 L485.0,398.83 L486.0,397.89 L487.0,396.90 L488.0,395.86 L489.0,394.77 L490.0,393.64 L491.0,392.48 L492.0,391.31 L493.0,390.12 L494.0,388.93 L495.0,387.74 L496.0,386.56 L497.0,385.39 L498.0,384.24 L499.0,383.11 L500.0,382.01 L501.0,380.93 L502.0,379.87 L503.0,378.85 L504.0,377.87 L505.0,376.93 L506.0,376.03 L507.0,375.19 L508.0,374.40 L509.0,373.67 L510.0,373.00 L511.0,372.40 L512.0,371.87 L513.0,371.42 L514.0,371.03 L515.0,370.72 L516.0,370.48 L517.0,370.32 L518.0,370.22 L519.0,370.20 L520.0,370.25 L521.0,370.37 L522.0,370.56 L523.0,370.81 L524.0,371.12 L525.0,371.48 L526.0,371.90 L527.0,372.37 L528.0,372.89 L529.0,373.46 L530.0,374.08 L531.0,374.76 L532.0,375.50 L533.0,376.30 L534.0,377.17 L535.0,378.10 L536.0,379.10 L537.0,380.16 L538.0,381.28 L539.0,382.45 L540.0,383.66 L541.0,384.90 L542.0,386.17 L543.0,387.46 L544.0,388.76 L545.0,390.07 L546.0,391.36 L547.0,392.64 L548.0,393.90 L549.0,395.11 L550.0,396.27 L551.0,397.38 L552.0,398.42 L553.0,399.38 L554.0,400.28 L555.0,401.10 L556.0,401.85 L557.0,402.53 L558.0,403.13 L559.0,403.66 L560.0,404.12 L561.0,404.50 L562.0,404.80 L563.0,405.03 L564.0,405.18 L565.0,405.25 L566.0,405.23 L567.0,405.13 L568.0,404.94 L569.0,404.68 L570.0,404.34 L571.0,403.94 L572.0,403.46 L573.0,402.93 L574.0,402.33 L575.0,401.68 L576.0,400.96 L577.0,400.19 L578.0,399.34 L579.0,398.42 L580.0,397.43 L581.0,396.35 L582.0,395.19 L583.0,393.95 L584.0,392.60 L585.0,391.17 L586.0,389.65 L587.0,388.05 L588.0,386.37 L589.0,384.63 L590.0,382.82 L591.0,380.96 L592.0,379.05 L593.0,377.10 L594.0,375.12 L595.0,373.12 L596.0,371.12 L597.0,369.12 L598.0,367.15 L599.0,365.20 L600.0,363.30 L601.0,361.45 L602.0,359.66 L603.0,357.93 L604.0,356.27 L605.0,354.69 L606.0,353.19 L607.0,351.78 L608.0,350.46 L609.0,349.24 L610.0,348.11 L611.0,347.10 L612.0,346.18 L613.0,345.37 L614.0,344.65 L615.0,344.01 L616.0,343.46 L617.0,342.98 L618.0,342.57 L619.0,342.24 L620.0,341.96 L621.0,341.74 L622.0,341.58 L623.0,341.46 L624.0,341.38 L625.0,341.33 L626.0,341.32 L627.0,341.35 L628.0,341.40 L629.0,341.49 L630.0,341.60 L631.0,341.76 L632.0,341.94 L633.0,342.17 L634.0,342.42 L635.0,342.71 L636.0,343.04 L637.0,343.40 L638.0,343.80 L639.0,344.24 L640.0,344.71 L641.0,345.23 L642.0,345.78 L643.0,346.37 L644.0,346.99 L645.0,347.66 L646.0,348.36 L647.0,349.10 L648.0,349.86 L649.0,350.66 L650.0,351.49 L651.0,352.34 L652.0,353.22 L653.0,354.12 L654.0,355.04 L655.0,355.99 L656.0,356.95 L657.0,357.92 L658.0,358.92 L659.0,359.92 L660.0,360.94 L661.0,361.96 L662.0,363.00 L663.0,364.05 L664.0,365.11 L665.0,366.18 L666.0,367.27 L667.0,368.37 L668.0,369.49 L669.0,370.62 L670.0,371.77 L671.0,372.94 L672.0,374.12 L673.0,375.33 L674.0,376.55 L675.0,377.79 L676.0,379.05 L677.0,380.34 L678.0,381.64 L679.0,382.97 L680.0,384.31 L681.0,385.67 L682.0,387.04 L683.0,388.42 L684.0,389.81 L685.0,391.21 L686.0,392.62 L687.0,394.03 L688.0,395.44 L688,718 L117,718 Z" fill="url(#gf)"/>
<g clip-path="url(#cf)"><path d="M117.0,420.00 L118.0,420.03 L119.0,420.06 L120.0,420.08 L121.0,420.11 L122.0,420.14 L123.0,420.17 L124.0,420.20 L125.0,420.22 L126.0,420.25 L127.0,420.28 L128.0,420.30 L129.0,420.33 L130.0,420.36 L131.0,420.38 L132.0,420.41 L133.0,420.44 L134.0,420.47 L135.0,420.49 L136.0,420.52 L137.0,420.55 L138.0,420.58 L139.0,420.61 L140.0,420.64 L141.0,420.68 L142.0,420.71 L143.0,420.74 L144.0,420.78 L145.0,420.81 L146.0,420.85 L147.0,420.89 L148.0,420.93 L149.0,420.97 L150.0,421.02 L151.0,421.06 L152.0,421.11 L153.0,421.16 L154.0,421.21 L155.0,421.26 L156.0,421.32 L157.0,421.38 L158.0,421.44 L159.0,421.50 L160.0,421.56 L161.0,421.63 L162.0,421.70 L163.0,421.77 L164.0,421.84 L165.0,421.91 L166.0,421.98 L167.0,422.06 L168.0,422.14 L169.0,422.22 L170.0,422.30 L171.0,422.38 L172.0,422.46 L173.0,422.54 L174.0,422.62 L175.0,422.71 L176.0,422.79 L177.0,422.88 L178.0,422.96 L179.0,423.05 L180.0,423.13 L181.0,423.22 L182.0,423.31 L183.0,423.39 L184.0,423.48 L185.0,423.57 L186.0,423.65 L187.0,423.74 L188.0,423.83 L189.0,423.92 L190.0,424.00 L191.0,424.09 L192.0,424.18 L193.0,424.27 L194.0,424.36 L195.0,424.45 L196.0,424.55 L197.0,424.64 L198.0,424.73 L199.0,424.83 L200.0,424.93 L201.0,425.02 L202.0,425.12 L203.0,425.22 L204.0,425.32 L205.0,425.42 L206.0,425.52 L207.0,425.63 L208.0,425.73 L209.0,425.83 L210.0,425.94 L211.0,426.04 L212.0,426.14 L213.0,426.25 L214.0,426.35 L215.0,426.46 L216.0,426.56 L217.0,426.67 L218.0,426.78 L219.0,426.88 L220.0,426.99 L221.0,427.09 L222.0,427.20 L223.0,427.30 L224.0,427.41 L225.0,427.51 L226.0,427.61 L227.0,427.72 L228.0,427.82 L229.0,427.92 L230.0,428.02 L231.0,428.12 L232.0,428.22 L233.0,428.32 L234.0,428.42 L235.0,428.52 L236.0,428.61 L237.0,428.71 L238.0,428.80 L239.0,428.89 L240.0,428.98 L241.0,429.07 L242.0,429.16 L243.0,429.24 L244.0,429.32 L245.0,429.40 L246.0,429.48 L247.0,429.55 L248.0,429.63 L249.0,429.70 L250.0,429.77 L251.0,429.84 L252.0,429.91 L253.0,429.98 L254.0,430.05 L255.0,430.12 L256.0,430.20 L257.0,430.27 L258.0,430.34 L259.0,430.41 L260.0,430.49 L261.0,430.57 L262.0,430.65 L263.0,430.73 L264.0,430.82 L265.0,430.91 L266.0,431.00 L267.0,431.10 L268.0,431.20 L269.0,431.31 L270.0,431.42 L271.0,431.54 L272.0,431.67 L273.0,431.81 L274.0,431.96 L275.0,432.12 L276.0,432.30 L277.0,432.49 L278.0,432.70 L279.0,432.92 L280.0,433.17 L281.0,433.43 L282.0,433.71 L283.0,434.01 L284.0,434.33 L285.0,434.66 L286.0,435.01 L287.0,435.37 L288.0,435.75 L289.0,436.13 L290.0,436.53 L291.0,436.94 L292.0,437.35 L293.0,437.77 L294.0,438.20 L295.0,438.63 L296.0,439.07 L297.0,439.51 L298.0,439.95 L299.0,440.39 L300.0,440.83 L301.0,441.26 L302.0,441.69 L303.0,442.12 L304.0,442.55 L305.0,442.96 L306.0,443.37 L307.0,443.77 L308.0,444.17 L309.0,444.55 L310.0,444.93 L311.0,445.30 L312.0,445.67 L313.0,446.03 L314.0,446.38 L315.0,446.73 L316.0,447.07 L317.0,447.42 L318.0,447.76 L319.0,448.10 L320.0,448.44 L321.0,448.78 L322.0,449.12 L323.0,449.47 L324.0,449.82 L325.0,450.17 L326.0,450.53 L327.0,450.89 L328.0,451.26 L329.0,451.64 L330.0,452.02 L331.0,452.42 L332.0,452.82 L333.0,453.24 L334.0,453.67 L335.0,454.10 L336.0,454.55 L337.0,455.02 L338.0,455.49 L339.0,455.98 L340.0,456.48 L341.0,456.99 L342.0,457.52 L343.0,458.05 L344.0,458.60 L345.0,459.15 L346.0,459.71 L347.0,460.28 L348.0,460.85 L349.0,461.44 L350.0,462.02 L351.0,462.61 L352.0,463.21 L353.0,463.81 L354.0,464.41 L355.0,465.02 L356.0,465.63 L357.0,466.24 L358.0,466.86 L359.0,467.48 L360.0,468.12 L361.0,468.76 L362.0,469.41 L363.0,470.07 L364.0,470.75 L365.0,471.45 L366.0,472.17 L367.0,472.91 L368.0,473.67 L369.0,474.46 L370.0,475.28 L371.0,476.13 L372.0,477.01 L373.0,477.93 L374.0,478.87 L375.0,479.83 L376.0,480.82 L377.0,481.82 L378.0,482.84 L379.0,483.86 L380.0,484.89 L381.0,485.91 L382.0,486.94 L383.0,487.95 L384.0,488.97 L385.0,489.97 L386.0,490.97 L387.0,491.96 L388.0,492.95 L389.0,493.93 L390.0,494.90 L391.0,495.84 L392.0,496.76 L393.0,497.66 L394.0,498.51 L395.0,499.32 L396.0,500.08 L397.0,500.79 L398.0,501.44 L399.0,502.05 L400.0,502.60 L401.0,503.10 L402.0,503.57 L403.0,504.00 L404.0,504.40 L405.0,504.77 L406.0,505.13 L407.0,505.46 L408.0,505.77 L409.0,506.06 L410.0,506.34 L411.0,506.59 L412.0,506.82 L413.0,507.03 L414.0,507.22 L415.0,507.38 L416.0,507.51 L417.0,507.61 L418.0,507.69 L419.0,507.74 L420.0,507.76 L421.0,507.75 L422.0,507.72 L423.0,507.65 L424.0,507.57 L425.0,507.45 L426.0,507.32 L427.0,507.17 L428.0,507.00 L429.0,506.81 L430.0,506.62 L431.0,506.41 L432.0,506.19 L433.0,505.96 L434.0,505.73 L435.0,505.50 L436.0,505.27 L437.0,505.04 L438.0,504.81 L439.0,504.59 L440.0,504.38 L441.0,504.19 L442.0,504.00 L443.0,503.83 L444.0,503.67 L445.0,503.54 L446.0,503.42 L447.0,503.32 L448.0,503.24 L449.0,503.18 L450.0,503.14 L451.0,503.12 L452.0,503.11 L453.0,503.11 L454.0,503.13 L455.0,503.15 L456.0,503.19 L457.0,503.23 L458.0,503.28 L459.0,503.34 L460.0,503.40 L461.0,503.47 L462.0,503.54 L463.0,503.62 L464.0,503.70 L465.0,503.79 L466.0,503.88 L467.0,503.98 L468.0,504.08 L469.0,504.19 L470.0,504.31 L471.0,504.43 L472.0,504.56 L473.0,504.70 L474.0,504.86 L475.0,505.03 L476.0,505.23 L477.0,505.46 L478.0,505.72 L479.0,506.01 L480.0,506.34 L481.0,506.71 L482.0,507.12 L483.0,507.57 L484.0,508.06 L485.0,508.59 L486.0,509.14 L487.0,509.73 L488.0,510.35 L489.0,511.00 L490.0,511.66 L491.0,512.35 L492.0,513.05 L493.0,513.77 L494.0,514.50 L495.0,515.23 L496.0,515.97 L497.0,516.71 L498.0,517.45 L499.0,518.18 L500.0,518.91 L501.0,519.62 L502.0,520.33 L503.0,521.01 L504.0,521.68 L505.0,522.32 L506.0,522.94 L507.0,523.53 L508.0,524.09 L509.0,524.62 L510.0,525.11 L511.0,525.58 L512.0,526.01 L513.0,526.41 L514.0,526.78 L515.0,527.13 L516.0,527.45 L517.0,527.76 L518.0,528.04 L519.0,528.32 L520.0,528.58 L521.0,528.83 L522.0,529.08 L523.0,529.31 L524.0,529.54 L525.0,529.76 L526.0,529.98 L527.0,530.19 L528.0,530.40 L529.0,530.60 L530.0,530.79 L531.0,530.98 L532.0,531.17 L533.0,531.35 L534.0,531.52 L535.0,531.70 L536.0,531.87 L537.0,532.04 L538.0,532.20 L539.0,532.36 L540.0,532.52 L541.0,532.68 L542.0,532.83 L543.0,532.98 L544.0,533.14 L545.0,533.29 L546.0,533.44 L547.0,533.59 L548.0,533.74 L549.0,533.88 L550.0,534.03 L551.0,534.18 L552.0,534.33 L553.0,534.48 L554.0,534.64 L555.0,534.79 L556.0,534.95 L557.0,535.10 L558.0,535.26 L559.0,535.42 L560.0,535.59 L561.0,535.76 L562.0,535.93 L563.0,536.10 L564.0,536.28 L565.0,536.46 L566.0,536.65 L567.0,536.84 L568.0,537.04 L569.0,537.24 L570.0,537.45 L571.0,537.66 L572.0,537.88 L573.0,538.11 L574.0,538.34 L575.0,538.59 L576.0,538.85 L577.0,539.11 L578.0,539.40 L579.0,539.70 L580.0,540.01 L581.0,540.34 L582.0,540.68 L583.0,541.04 L584.0,541.42 L585.0,541.81 L586.0,542.22 L587.0,542.64 L588.0,543.06 L589.0,543.50 L590.0,543.95 L591.0,544.41 L592.0,544.87 L593.0,545.33 L594.0,545.80 L595.0,546.27 L596.0,546.74 L597.0,547.21 L598.0,547.68 L599.0,548.14 L600.0,548.60 L601.0,549.06 L602.0,549.50 L603.0,549.94 L604.0,550.36 L605.0,550.78 L606.0,551.18 L607.0,551.57 L608.0,551.94 L609.0,552.29 L610.0,552.63 L611.0,552.94 L612.0,553.24 L613.0,553.51 L614.0,553.76 L615.0,553.98 L616.0,554.18 L617.0,554.35 L618.0,554.50 L619.0,554.62 L620.0,554.72 L621.0,554.80 L622.0,554.85 L623.0,554.89 L624.0,554.91 L625.0,554.93 L626.0,554.93 L627.0,554.92 L628.0,554.91 L629.0,554.89 L630.0,554.87 L631.0,554.84 L632.0,554.81 L633.0,554.78 L634.0,554.75 L635.0,554.72 L636.0,554.68 L637.0,554.65 L638.0,554.61 L639.0,554.58 L640.0,554.54 L641.0,554.50 L642.0,554.46 L643.0,554.42 L644.0,554.39 L645.0,554.35 L646.0,554.32 L647.0,554.28 L648.0,554.25 L649.0,554.22 L650.0,554.19 L651.0,554.16 L652.0,554.13 L653.0,554.11 L654.0,554.09 L655.0,554.07 L656.0,554.06 L657.0,554.05 L658.0,554.05 L659.0,554.06 L660.0,554.07 L661.0,554.09 L662.0,554.12 L663.0,554.15 L664.0,554.20 L665.0,554.26 L666.0,554.33 L667.0,554.40 L668.0,554.49 L669.0,554.58 L670.0,554.68 L671.0,554.79 L672.0,554.91 L673.0,555.03 L674.0,555.16 L675.0,555.28 L676.0,555.42 L677.0,555.55 L678.0,555.69 L679.0,555.82 L680.0,555.96 L681.0,556.10 L682.0,556.23 L683.0,556.36 L684.0,556.49 L685.0,556.62 L686.0,556.74 L687.0,556.86 L688.0,556.98 L688,718 L117,718 Z" fill="url(#gt)" filter="url(#bl2)"/></g>
<g stroke="#a5bcc4" stroke-width="1.45" style="mix-blend-mode:multiply"><line x1="166.00" y1="235" x2="166.00" y2="718"/><line x1="188.00" y1="235" x2="188.00" y2="718"/><line x1="204.50" y1="235" x2="204.50" y2="718"/><line x1="219.00" y1="235" x2="219.00" y2="718"/><line x1="229.50" y1="235" x2="229.50" y2="718"/><line x1="240.25" y1="235" x2="240.25" y2="718"/><line x1="247.00" y1="235" x2="247.00" y2="718"/><line x1="255.25" y1="235" x2="255.25" y2="718"/><line x1="309.50" y1="235" x2="309.50" y2="718"/><line x1="335.00" y1="235" x2="335.00" y2="718"/><line x1="354.00" y1="235" x2="354.00" y2="718"/><line x1="370.50" y1="235" x2="370.50" y2="718"/><line x1="381.00" y1="235" x2="381.00" y2="718"/><line x1="393.50" y1="235" x2="393.50" y2="718"/><line x1="406.00" y1="235" x2="406.00" y2="718"/><line x1="415.00" y1="235" x2="415.00" y2="718"/><line x1="427.25" y1="235" x2="427.25" y2="718"/><line x1="486.25" y1="235" x2="486.25" y2="718"/><line x1="497.00" y1="235" x2="497.00" y2="718"/><line x1="522.00" y1="235" x2="522.00" y2="718"/><line x1="538.50" y1="235" x2="538.50" y2="718"/><line x1="551.00" y1="235" x2="551.00" y2="718"/><line x1="565.50" y1="235" x2="565.50" y2="718"/><line x1="575.75" y1="235" x2="575.75" y2="718"/><line x1="585.00" y1="235" x2="585.00" y2="718"/><line x1="593.50" y1="235" x2="593.50" y2="718"/><line x1="643.75" y1="235" x2="643.75" y2="718"/><line x1="119" y1="280.00" x2="683" y2="280.00"/><line x1="119" y1="330.25" x2="683" y2="330.25"/><line x1="119" y1="380.50" x2="683" y2="380.50"/><line x1="119" y1="430.75" x2="683" y2="430.75"/><line x1="119" y1="481.00" x2="683" y2="481.00"/><line x1="119" y1="531.25" x2="683" y2="531.25"/><line x1="119" y1="581.50" x2="683" y2="581.50"/><line x1="119" y1="631.75" x2="683" y2="631.75"/><line x1="119" y1="682.00" x2="683" y2="682.00"/></g>
<path d="M117.0,439.30 L118.0,438.24 L119.0,437.17 L120.0,436.10 L121.0,435.02 L122.0,433.92 L123.0,432.82 L124.0,431.69 L125.0,430.55 L126.0,429.39 L127.0,428.20 L128.0,427.00 L129.0,425.80 L130.0,424.60 L131.0,423.41 L132.0,422.23 L133.0,421.08 L134.0,419.96 L135.0,418.87 L136.0,417.82 L137.0,416.83 L138.0,415.89 L139.0,414.99 L140.0,414.14 L141.0,413.33 L142.0,412.56 L143.0,411.82 L144.0,411.11 L145.0,410.42 L146.0,409.76 L147.0,409.11 L148.0,408.48 L149.0,407.86 L150.0,407.25 L151.0,406.66 L152.0,406.09 L153.0,405.55 L154.0,405.03 L155.0,404.53 L156.0,404.07 L157.0,403.64 L158.0,403.25 L159.0,402.90 L160.0,402.59 L161.0,402.32 L162.0,402.09 L163.0,401.90 L164.0,401.75 L165.0,401.64 L166.0,401.57 L167.0,401.54 L168.0,401.55 L169.0,401.59 L170.0,401.66 L171.0,401.76 L172.0,401.89 L173.0,402.04 L174.0,402.22 L175.0,402.42 L176.0,402.63 L177.0,402.87 L178.0,403.11 L179.0,403.37 L180.0,403.64 L181.0,403.93 L182.0,404.24 L183.0,404.57 L184.0,404.92 L185.0,405.29 L186.0,405.68 L187.0,406.10 L188.0,406.54 L189.0,407.01 L190.0,407.51 L191.0,408.03 L192.0,408.58 L193.0,409.15 L194.0,409.74 L195.0,410.35 L196.0,410.98 L197.0,411.62 L198.0,412.29 L199.0,412.97 L200.0,413.69 L201.0,414.42 L202.0,415.19 L203.0,415.99 L204.0,416.83 L205.0,417.71 L206.0,418.63 L207.0,419.58 L208.0,420.58 L209.0,421.60 L210.0,422.64 L211.0,423.71 L212.0,424.80 L213.0,425.90 L214.0,427.01 L215.0,428.13 L216.0,429.25 L217.0,430.37 L218.0,431.48 L219.0,432.57 L220.0,433.65 L221.0,434.70 L222.0,435.74 L223.0,436.74 L224.0,437.73 L225.0,438.69 L226.0,439.63 L227.0,440.54 L228.0,441.44 L229.0,442.31 L230.0,443.15 L231.0,443.97 L232.0,444.77 L233.0,445.54 L234.0,446.28 L235.0,446.99 L236.0,447.67 L237.0,448.32 L238.0,448.93 L239.0,449.50 L240.0,450.04 L241.0,450.53 L242.0,450.98 L243.0,451.39 L244.0,451.74 L245.0,452.05 L246.0,452.30 L247.0,452.49 L248.0,452.62 L249.0,452.69 L250.0,452.69 L251.0,452.61 L252.0,452.46 L253.0,452.22 L254.0,451.89 L255.0,451.47 L256.0,450.94 L257.0,450.31 L258.0,449.55 L259.0,448.66 L260.0,447.63 L261.0,446.45 L262.0,445.11 L263.0,443.59 L264.0,441.90 L265.0,440.05 L266.0,438.04 L267.0,435.89 L268.0,433.61 L269.0,431.21 L270.0,428.72 L271.0,426.14 L272.0,423.49 L273.0,420.81 L274.0,418.09 L275.0,415.35 L276.0,412.58 L277.0,409.79 L278.0,406.97 L279.0,404.13 L280.0,401.27 L281.0,398.40 L282.0,395.53 L283.0,392.67 L284.0,389.82 L285.0,387.00 L286.0,384.23 L287.0,381.50 L288.0,378.83 L289.0,376.23 L290.0,373.68 L291.0,371.18 L292.0,368.75 L293.0,366.36 L294.0,364.03 L295.0,361.74 L296.0,359.50 L297.0,357.30 L298.0,355.15 L299.0,353.04 L300.0,350.97 L301.0,348.95 L302.0,346.97 L303.0,345.03 L304.0,343.14 L305.0,341.30 L306.0,339.50 L307.0,337.75 L308.0,336.05 L309.0,334.40 L310.0,332.80 L311.0,331.25 L312.0,329.75 L313.0,328.30 L314.0,326.90 L315.0,325.56 L316.0,324.26 L317.0,323.02 L318.0,321.83 L319.0,320.69 L320.0,319.60 L321.0,318.55 L322.0,317.55 L323.0,316.59 L324.0,315.67 L325.0,314.80 L326.0,313.97 L327.0,313.18 L328.0,312.43 L329.0,311.73 L330.0,311.07 L331.0,310.45 L332.0,309.88 L333.0,309.36 L334.0,308.88 L335.0,308.44 L336.0,308.05 L337.0,307.71 L338.0,307.41 L339.0,307.15 L340.0,306.94 L341.0,306.77 L342.0,306.63 L343.0,306.54 L344.0,306.48 L345.0,306.46 L346.0,306.47 L347.0,306.53 L348.0,306.61 L349.0,306.74 L350.0,306.90 L351.0,307.10 L352.0,307.33 L353.0,307.61 L354.0,307.92 L355.0,308.27 L356.0,308.66 L357.0,309.09 L358.0,309.55 L359.0,310.05 L360.0,310.59 L361.0,311.17 L362.0,311.78 L363.0,312.43 L364.0,313.11 L365.0,313.83 L366.0,314.58 L367.0,315.37 L368.0,316.19 L369.0,317.04 L370.0,317.94 L371.0,318.86 L372.0,319.82 L373.0,320.81 L374.0,321.83 L375.0,322.89 L376.0,323.97 L377.0,325.08 L378.0,326.22 L379.0,327.38 L380.0,328.57 L381.0,329.77 L382.0,331.00 L383.0,332.25 L384.0,333.51 L385.0,334.78 L386.0,336.07 L387.0,337.36 L388.0,338.66 L389.0,339.97 L390.0,341.28 L391.0,342.59 L392.0,343.89 L393.0,345.19 L394.0,346.49 L395.0,347.78 L396.0,349.06 L397.0,350.34 L398.0,351.61 L399.0,352.87 L400.0,354.12 L401.0,355.37 L402.0,356.60 L403.0,357.83 L404.0,359.04 L405.0,360.25 L406.0,361.44 L407.0,362.63 L408.0,363.80 L409.0,364.96 L410.0,366.12 L411.0,367.27 L412.0,368.42 L413.0,369.57 L414.0,370.72 L415.0,371.87 L416.0,373.03 L417.0,374.19 L418.0,375.35 L419.0,376.53 L420.0,377.71 L421.0,378.90 L422.0,380.09 L423.0,381.28 L424.0,382.46 L425.0,383.62 L426.0,384.76 L427.0,385.89 L428.0,386.98 L429.0,388.04 L430.0,389.08 L431.0,390.09 L432.0,391.07 L433.0,392.02 L434.0,392.95 L435.0,393.85 L436.0,394.73 L437.0,395.58 L438.0,396.42 L439.0,397.23 L440.0,398.01 L441.0,398.78 L442.0,399.53 L443.0,400.25 L444.0,400.96 L445.0,401.64 L446.0,402.31 L447.0,402.95 L448.0,403.58 L449.0,404.19 L450.0,404.77 L451.0,405.34 L452.0,405.87 L453.0,406.38 L454.0,406.86 L455.0,407.31 L456.0,407.72 L457.0,408.09 L458.0,408.43 L459.0,408.71 L460.0,408.96 L461.0,409.15 L462.0,409.29 L463.0,409.38 L464.0,409.42 L465.0,409.40 L466.0,409.32 L467.0,409.18 L468.0,408.99 L469.0,408.73 L470.0,408.42 L471.0,408.05 L472.0,407.62 L473.0,407.14 L474.0,406.61 L475.0,406.05 L476.0,405.45 L477.0,404.83 L478.0,404.17 L479.0,403.50 L480.0,402.81 L481.0,402.09 L482.0,401.34 L483.0,400.54 L484.0,399.71 L485.0,398.83 L486.0,397.89 L487.0,396.90 L488.0,395.86 L489.0,394.77 L490.0,393.64 L491.0,392.48 L492.0,391.31 L493.0,390.12 L494.0,388.93 L495.0,387.74 L496.0,386.56 L497.0,385.39 L498.0,384.24 L499.0,383.11 L500.0,382.01 L501.0,380.93 L502.0,379.87 L503.0,378.85 L504.0,377.87 L505.0,376.93 L506.0,376.03 L507.0,375.19 L508.0,374.40 L509.0,373.67 L510.0,373.00 L511.0,372.40 L512.0,371.87 L513.0,371.42 L514.0,371.03 L515.0,370.72 L516.0,370.48 L517.0,370.32 L518.0,370.22 L519.0,370.20 L520.0,370.25 L521.0,370.37 L522.0,370.56 L523.0,370.81 L524.0,371.12 L525.0,371.48 L526.0,371.90 L527.0,372.37 L528.0,372.89 L529.0,373.46 L530.0,374.08 L531.0,374.76 L532.0,375.50 L533.0,376.30 L534.0,377.17 L535.0,378.10 L536.0,379.10 L537.0,380.16 L538.0,381.28 L539.0,382.45 L540.0,383.66 L541.0,384.90 L542.0,386.17 L543.0,387.46 L544.0,388.76 L545.0,390.07 L546.0,391.36 L547.0,392.64 L548.0,393.90 L549.0,395.11 L550.0,396.27 L551.0,397.38 L552.0,398.42 L553.0,399.38 L554.0,400.28 L555.0,401.10 L556.0,401.85 L557.0,402.53 L558.0,403.13 L559.0,403.66 L560.0,404.12 L561.0,404.50 L562.0,404.80 L563.0,405.03 L564.0,405.18 L565.0,405.25 L566.0,405.23 L567.0,405.13 L568.0,404.94 L569.0,404.68 L570.0,404.34 L571.0,403.94 L572.0,403.46 L573.0,402.93 L574.0,402.33 L575.0,401.68 L576.0,400.96 L577.0,400.19 L578.0,399.34 L579.0,398.42 L580.0,397.43 L581.0,396.35 L582.0,395.19 L583.0,393.95 L584.0,392.60 L585.0,391.17 L586.0,389.65 L587.0,388.05 L588.0,386.37 L589.0,384.63 L590.0,382.82 L591.0,380.96 L592.0,379.05 L593.0,377.10 L594.0,375.12 L595.0,373.12 L596.0,371.12 L597.0,369.12 L598.0,367.15 L599.0,365.20 L600.0,363.30 L601.0,361.45 L602.0,359.66 L603.0,357.93 L604.0,356.27 L605.0,354.69 L606.0,353.19 L607.0,351.78 L608.0,350.46 L609.0,349.24 L610.0,348.11 L611.0,347.10 L612.0,346.18 L613.0,345.37 L614.0,344.65 L615.0,344.01 L616.0,343.46 L617.0,342.98 L618.0,342.57 L619.0,342.24 L620.0,341.96 L621.0,341.74 L622.0,341.58 L623.0,341.46 L624.0,341.38 L625.0,341.33 L626.0,341.32 L627.0,341.35 L628.0,341.40 L629.0,341.49 L630.0,341.60 L631.0,341.76 L632.0,341.94 L633.0,342.17 L634.0,342.42 L635.0,342.71 L636.0,343.04 L637.0,343.40 L638.0,343.80 L639.0,344.24 L640.0,344.71 L641.0,345.23 L642.0,345.78 L643.0,346.37 L644.0,346.99 L645.0,347.66 L646.0,348.36 L647.0,349.10 L648.0,349.86 L649.0,350.66 L650.0,351.49 L651.0,352.34 L652.0,353.22 L653.0,354.12 L654.0,355.04 L655.0,355.99 L656.0,356.95 L657.0,357.92 L658.0,358.92 L659.0,359.92 L660.0,360.94 L661.0,361.96 L662.0,363.00 L663.0,364.05 L664.0,365.11 L665.0,366.18 L666.0,367.27 L667.0,368.37 L668.0,369.49 L669.0,370.62 L670.0,371.77 L671.0,372.94 L672.0,374.12 L673.0,375.33 L674.0,376.55 L675.0,377.79 L676.0,379.05 L677.0,380.34 L678.0,381.64 L679.0,382.97 L680.0,384.31 L681.0,385.67 L682.0,387.04 L683.0,388.42 L684.0,389.81 L685.0,391.21 L686.0,392.62 L687.0,394.03 L688.0,395.44" fill="none" stroke="#48689a" stroke-width="2"/>
<line x1="116.4" y1="235" x2="116.4" y2="719" stroke="#62656d" stroke-width="1.8"/>
<line x1="115.5" y1="718.2" x2="702" y2="718.2" stroke="#6e6a6a" stroke-width="1.8"/>
</svg>
</body></html>
